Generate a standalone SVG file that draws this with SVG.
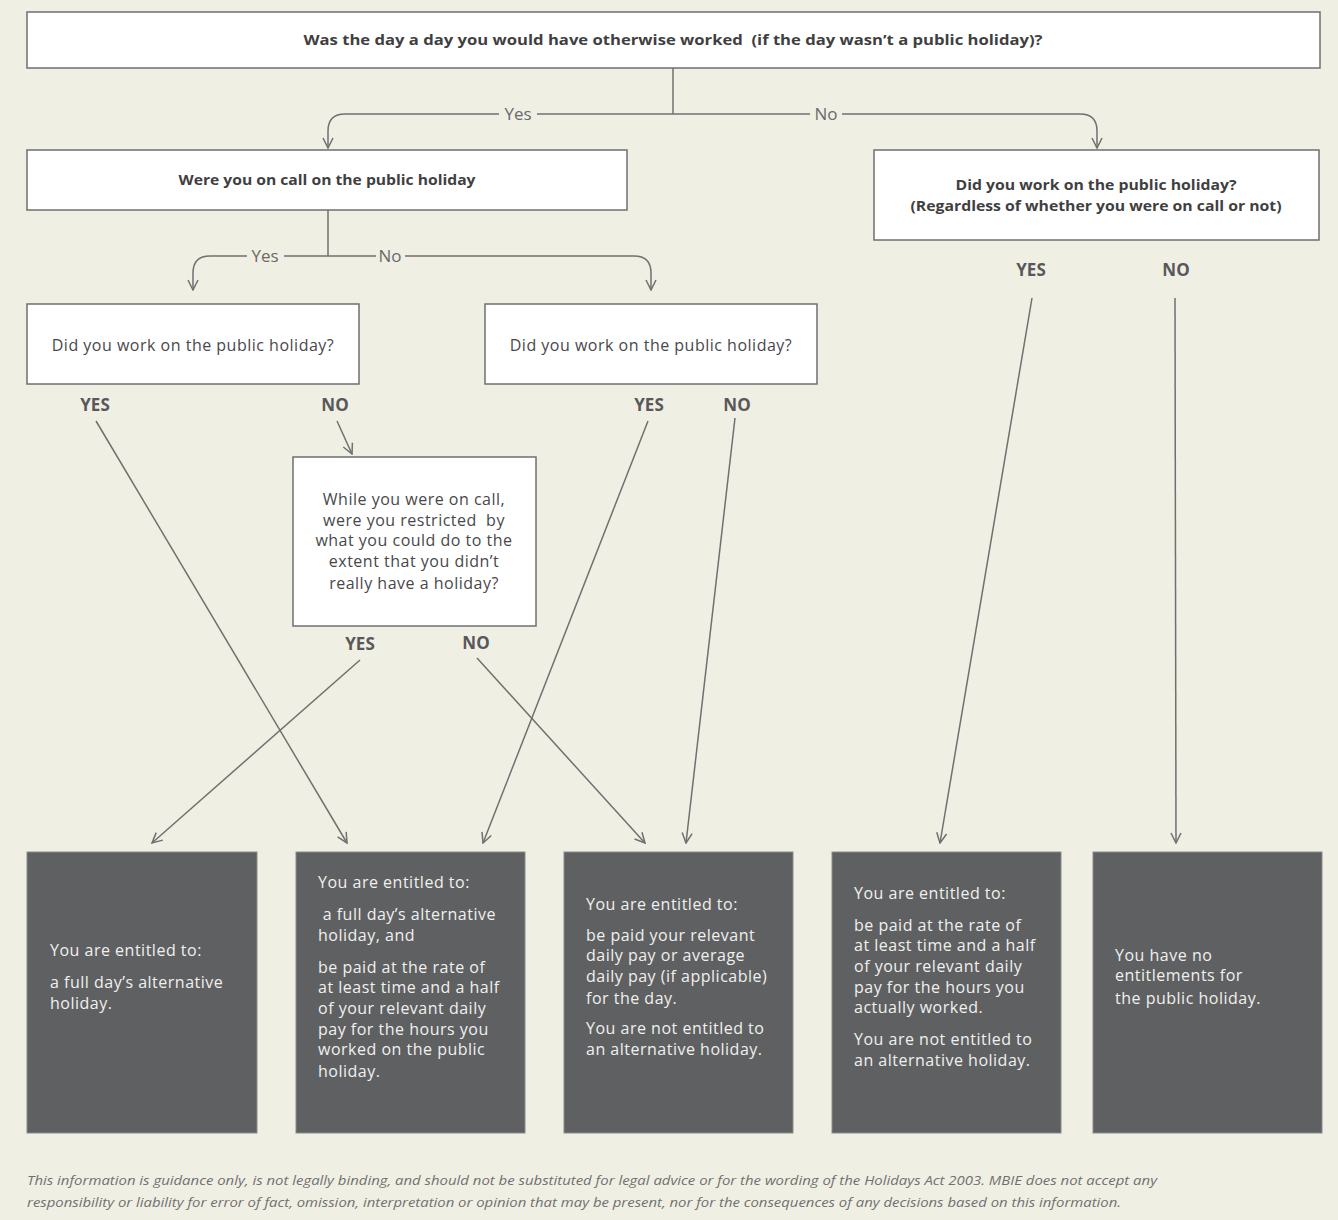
<svg xmlns="http://www.w3.org/2000/svg" width="1338" height="1220" viewBox="0 0 1338 1220">
<style>
.q{fill:#fff;stroke:#6f6f6f;stroke-width:1.5}
.d{fill:#5f6062;stroke:#8a8a88;stroke-width:1}
.h{font-family:"Open Sans","Liberation Sans",sans-serif;font-weight:700;font-size:14.5px;fill:#3f3f42;text-anchor:middle}
.t{font-family:"Open Sans","Liberation Sans",sans-serif;font-size:16px;letter-spacing:0.5px;fill:#48484b;text-anchor:middle}
.w{font-family:"Open Sans","Liberation Sans",sans-serif;font-size:16px;letter-spacing:0.5px;fill:#f0f0ee}
.yn{font-family:"Open Sans","Liberation Sans",sans-serif;font-weight:700;font-size:17px;fill:#58585b;text-anchor:middle}
.lb{font-family:"Open Sans","Liberation Sans",sans-serif;font-size:17px;fill:#6a6a6a;text-anchor:middle}
.c{fill:none;stroke:#707070;stroke-width:1.5}
.f{font-family:"Open Sans","Liberation Sans",sans-serif;font-style:italic;font-size:13px;fill:#707070}
</style>
<defs>
<marker id="ah" viewBox="0 0 12 12" refX="11" refY="6" markerWidth="12" markerHeight="12" markerUnits="userSpaceOnUse" orient="auto">
<path d="M1,1 L11,6 L1,11" fill="none" stroke="#707070" stroke-width="1.5"/>
</marker>
</defs>
<rect x="0" y="0" width="1338" height="1220" fill="#f0efe4"/>

<g id="connectors">
<path class="c" d="M673,68 V114"/>
<path class="c" d="M673,114 H537"/>
<path class="c" d="M499,114 H345 Q328,114 328,131 V148" marker-end="url(#ah)"/>
<path class="c" d="M673,114 H810"/>
<path class="c" d="M842,114 H1080 Q1097,114 1097,131 V148" marker-end="url(#ah)"/>
<path class="c" d="M328,210 V256"/>
<path class="c" d="M328,256 H284"/>
<path class="c" d="M247,256 H210 Q193,256 193,273 V290" marker-end="url(#ah)"/>
<path class="c" d="M328,256 H376"/>
<path class="c" d="M405,256 H634 Q651,256 651,273 V290" marker-end="url(#ah)"/>
<path class="c" d="M337,421 L352,454" marker-end="url(#ah)"/>
<path class="c" d="M96,421 L347,843" marker-end="url(#ah)"/>
<path class="c" d="M360,660 L152,843" marker-end="url(#ah)"/>
<path class="c" d="M477,658 L645,843" marker-end="url(#ah)"/>
<path class="c" d="M648,421 L483,843" marker-end="url(#ah)"/>
<path class="c" d="M735,418 L686,843" marker-end="url(#ah)"/>
<path class="c" d="M1032,298 L940,843" marker-end="url(#ah)"/>
<path class="c" d="M1175,298 L1176,843" marker-end="url(#ah)"/>
<text class="lb" x="518" y="120">Yes</text>
<text class="lb" x="826" y="120">No</text>
<text class="lb" x="265" y="262">Yes</text>
<text class="lb" x="390" y="262">No</text>
</g>

<g id="q1">
<rect class="q" x="27" y="12" width="1293" height="56"/>
<text class="h" x="673" y="45" textLength="739" lengthAdjust="spacingAndGlyphs" xml:space="preserve">Was the day a day you would have otherwise worked  (if the day wasn’t a public holiday)?</text>
</g>
<g id="q2">
<rect class="q" x="27" y="150" width="600" height="60"/>
<text class="h" x="327" y="185" textLength="297" lengthAdjust="spacingAndGlyphs">Were you on call on the public holiday</text>
</g>
<g id="q3">
<rect class="q" x="874" y="150" width="445" height="90"/>
<text class="h" x="1096" y="190" textLength="281" lengthAdjust="spacingAndGlyphs">Did you work on the public holiday?</text>
<text class="h" x="1096" y="211" textLength="371" lengthAdjust="spacingAndGlyphs">(Regardless of whether you were on call or not)</text>
<text class="yn" x="1031" y="276">YES</text>
<text class="yn" x="1176" y="276">NO</text>
</g>
<g id="q4">
<rect class="q" x="27" y="304" width="332" height="80"/>
<text class="t" x="193" y="351">Did you work on the public holiday?</text>
<text class="yn" x="95" y="411">YES</text>
<text class="yn" x="335" y="411">NO</text>
</g>
<g id="q5">
<rect class="q" x="485" y="304" width="332" height="80"/>
<text class="t" x="651" y="351">Did you work on the public holiday?</text>
<text class="yn" x="649" y="411">YES</text>
<text class="yn" x="737" y="411">NO</text>
</g>
<g id="q6">
<rect class="q" x="293" y="457" width="243" height="169"/>
<text class="t" x="414" y="505">While you were on call,</text>
<text class="t" x="414" y="526" xml:space="preserve">were you restricted  by</text>
<text class="t" x="414" y="546">what you could do to the</text>
<text class="t" x="414" y="567">extent that you didn’t</text>
<text class="t" x="414" y="589">really have a holiday?</text>
<text class="yn" x="360" y="650">YES</text>
<text class="yn" x="476" y="649">NO</text>
</g>

<g id="rA">
<rect class="d" x="27" y="852" width="230" height="281"/>
<text class="w" x="50" y="956">You are entitled to:</text>
<text class="w" x="50" y="988">a full day’s alternative</text>
<text class="w" x="50" y="1009">holiday.</text>
</g>
<g id="rB">
<rect class="d" x="296" y="852" width="229" height="281"/>
<text class="w" x="318" y="888">You are entitled to:</text>
<text class="w" x="318" y="920" xml:space="preserve"> a full day’s alternative</text>
<text class="w" x="318" y="941">holiday, and</text>
<text class="w" x="318" y="973">be paid at the rate of</text>
<text class="w" x="318" y="993">at least time and a half</text>
<text class="w" x="318" y="1014">of your relevant daily</text>
<text class="w" x="318" y="1035">pay for the hours you</text>
<text class="w" x="318" y="1055">worked on the public</text>
<text class="w" x="318" y="1077">holiday.</text>
</g>
<g id="rC">
<rect class="d" x="564" y="852" width="229" height="281"/>
<text class="w" x="586" y="910">You are entitled to:</text>
<text class="w" x="586" y="941">be paid your relevant</text>
<text class="w" x="586" y="961">daily pay or average</text>
<text class="w" x="586" y="982">daily pay (if applicable)</text>
<text class="w" x="586" y="1004">for the day.</text>
<text class="w" x="586" y="1034">You are not entitled to</text>
<text class="w" x="586" y="1055">an alternative holiday.</text>
</g>
<g id="rD">
<rect class="d" x="832" y="852" width="229" height="281"/>
<text class="w" x="854" y="899">You are entitled to:</text>
<text class="w" x="854" y="931">be paid at the rate of</text>
<text class="w" x="854" y="951">at least time and a half</text>
<text class="w" x="854" y="972">of your relevant daily</text>
<text class="w" x="854" y="993">pay for the hours you</text>
<text class="w" x="854" y="1013">actually worked.</text>
<text class="w" x="854" y="1045">You are not entitled to</text>
<text class="w" x="854" y="1066">an alternative holiday.</text>
</g>
<g id="rE">
<rect class="d" x="1093" y="852" width="229" height="281"/>
<text class="w" x="1115" y="961">You have no</text>
<text class="w" x="1115" y="981">entitlements for</text>
<text class="w" x="1115" y="1004">the public holiday.</text>
</g>

<g id="footer">
<text class="f" x="27" y="1185" textLength="1130" lengthAdjust="spacingAndGlyphs">This information is guidance only, is not legally binding, and should not be substituted for legal advice or for the wording of the Holidays Act 2003. MBIE does not accept any</text>
<text class="f" x="27" y="1207" textLength="1094" lengthAdjust="spacingAndGlyphs">responsibility or liability for error of fact, omission, interpretation or opinion that may be present, nor for the consequences of any decisions based on this information.</text>
</g>
</svg>
